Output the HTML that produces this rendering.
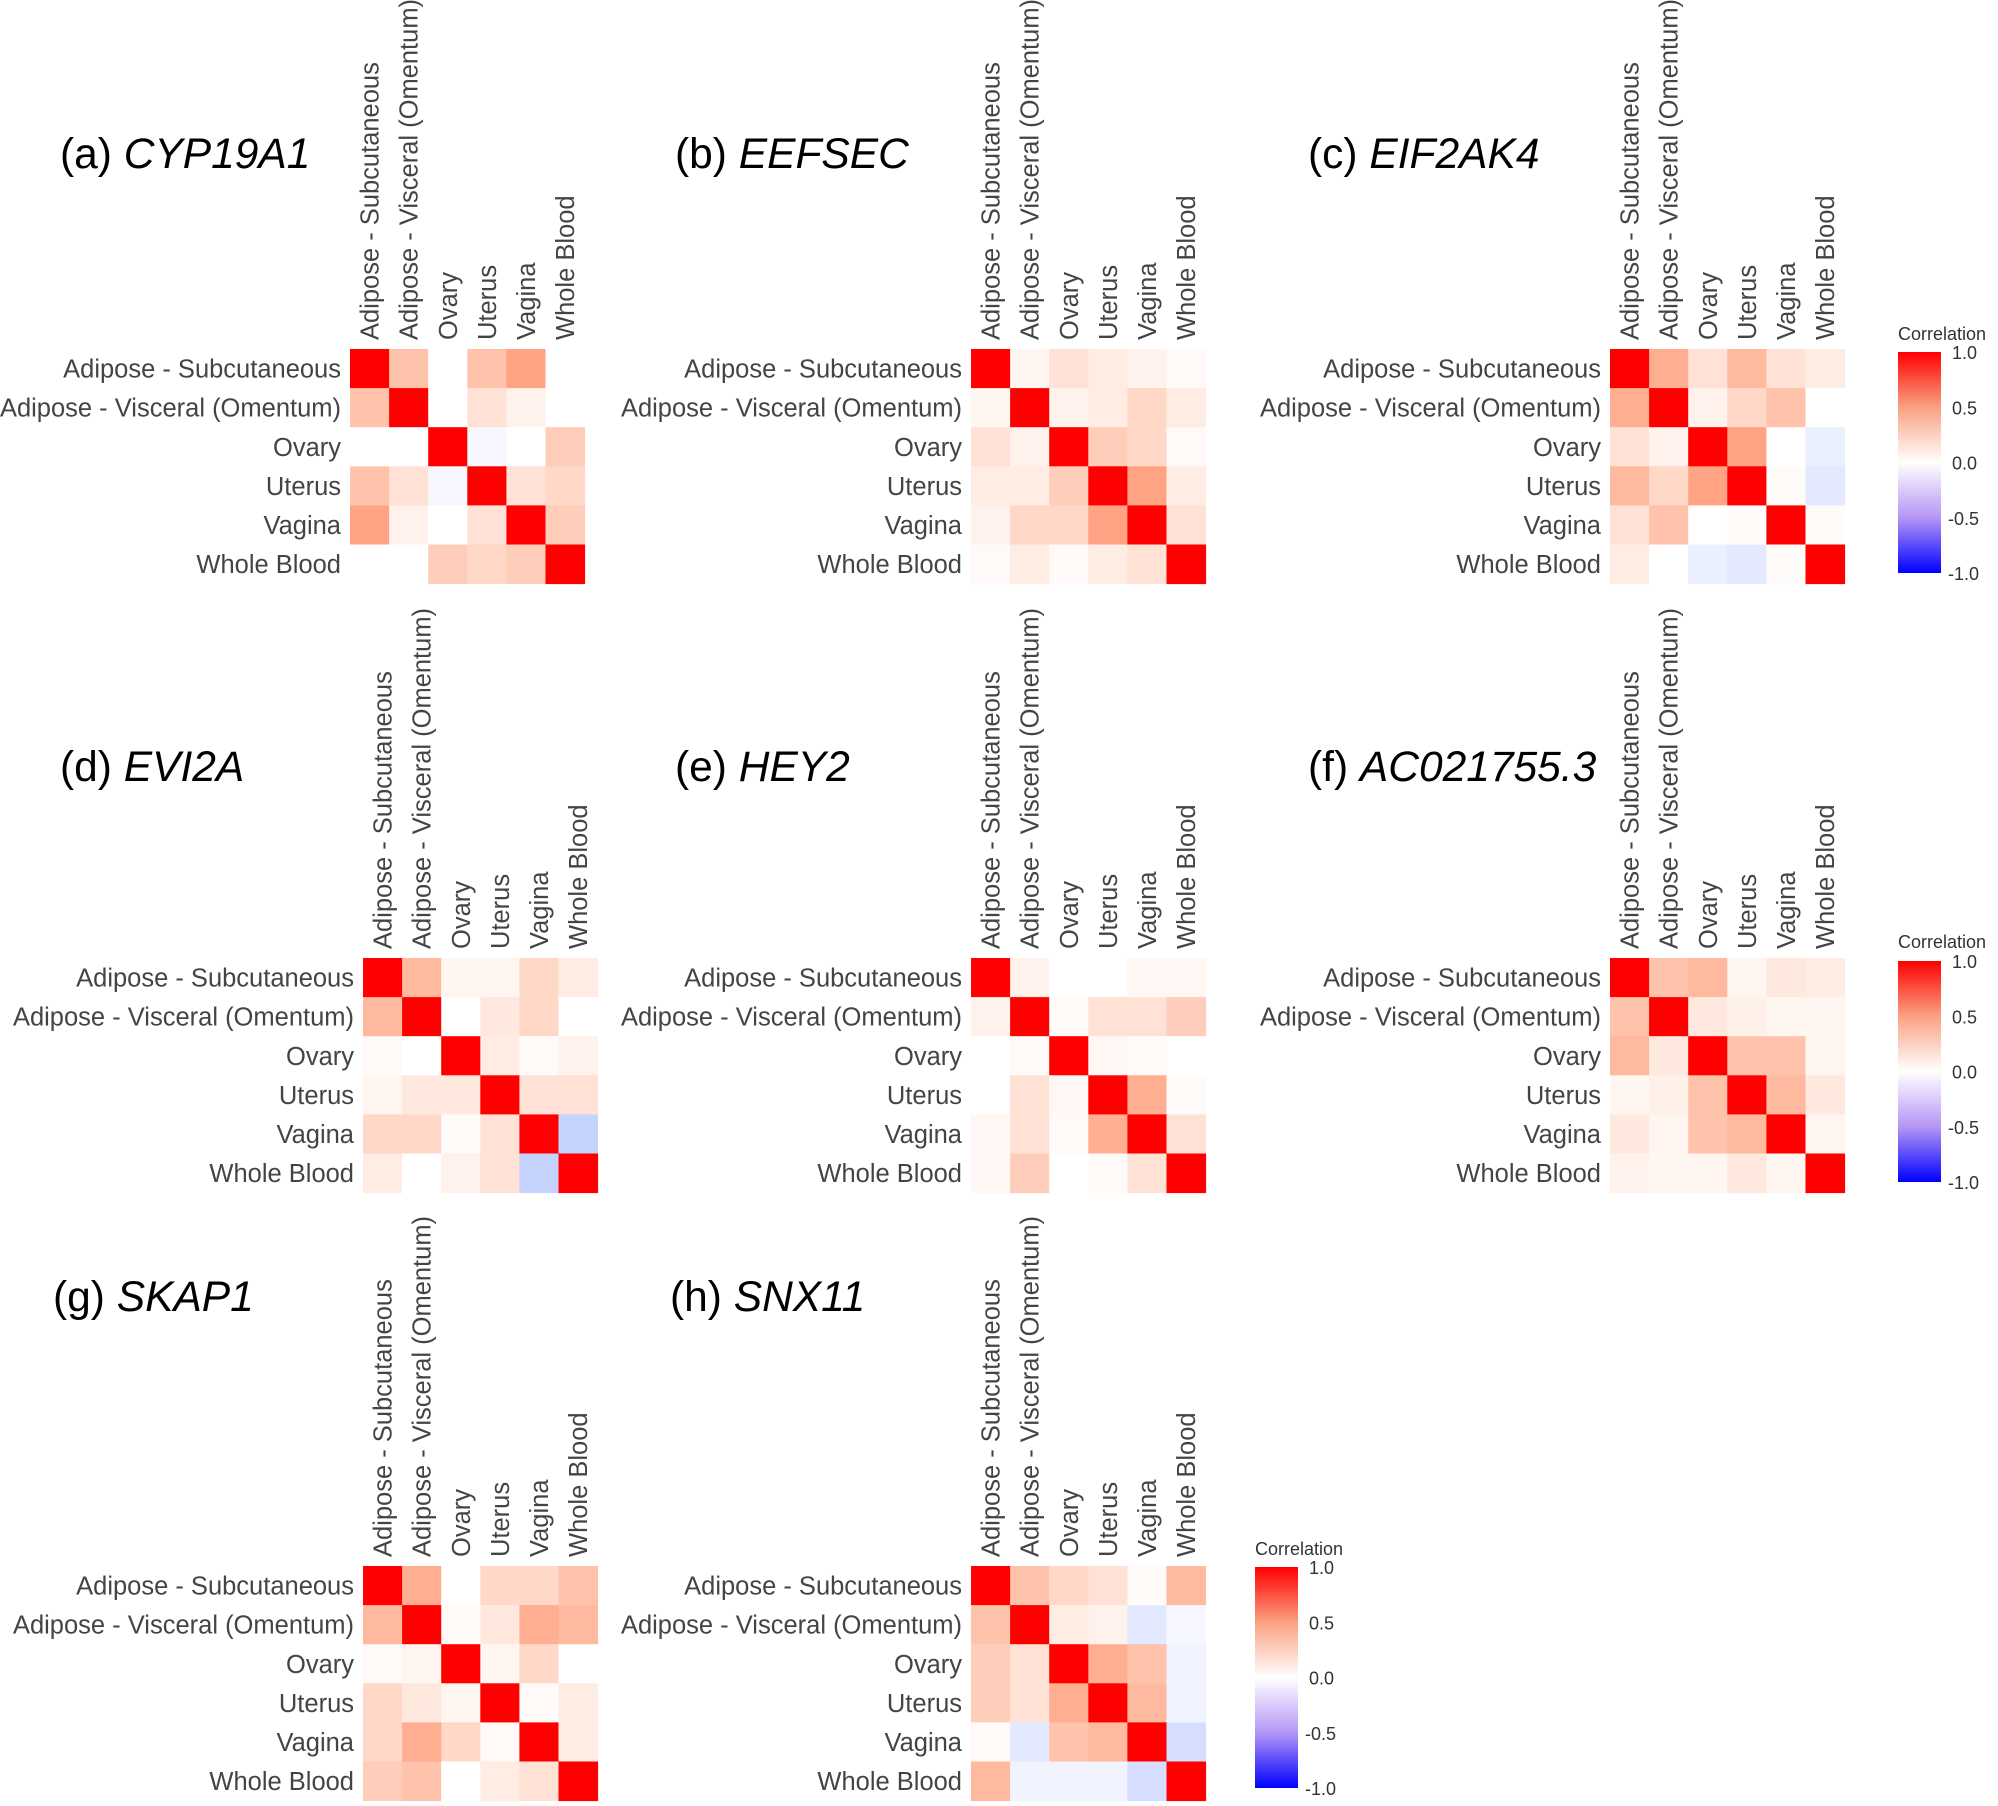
<!DOCTYPE html>
<html><head><meta charset="utf-8"><style>
html,body{margin:0;padding:0;background:#fff}
svg{display:block}
text{font-family:"Liberation Sans",sans-serif}
</style></head><body>
<svg id="s" width="1998" height="1806" xmlns="http://www.w3.org/2000/svg">
<defs><linearGradient id="cg" x1="0" y1="0" x2="0" y2="1">
<stop offset="0" stop-color="#ff0000"/><stop offset="0.25" stop-color="#f9a182"/><stop offset="0.5" stop-color="#ffffff"/><stop offset="0.75" stop-color="#b496f5"/><stop offset="1" stop-color="#0000ff"/>
</linearGradient></defs>
</svg>
<script>
const S=document.getElementById('s');
const NS="http://www.w3.org/2000/svg";
function el(t,a,txt){const e=document.createElementNS(NS,t);for(const k in a)e.setAttribute(k,a[k]);if(txt!==undefined)e.textContent=txt;S.appendChild(e);return e;}
function col(v){if(v>=0){const g=Math.round(255*Math.pow(1-v,0.75)),b=Math.round(255*Math.pow(1-v,1.1));return `rgb(255,${g},${b})`;}const a=-v;const r=Math.round(255*Math.pow(1-a,1.1)),g=Math.round(255*Math.pow(1-a,0.85));return `rgb(${r},${g},255)`;}
const labs=["Adipose - Subcutaneous","Adipose - Visceral (Omentum)","Ovary","Uterus","Vagina","Whole Blood"];
const P=[
{t:"(a) ",g:"CYP19A1",tx:60,ty:168,x:350,y:349,m:[[1,.3,0,.3,.45,0],[.3,1,0,.15,.07,0],[0,0,1,-.03,0,.25],[.3,.15,-.03,1,.15,.2],[.45,.07,0,.15,1,.25],[0,0,.25,.2,.25,1]]},
{t:"(b) ",g:"EEFSEC",tx:675,ty:168,x:971,y:349,m:[[1,.05,.15,.1,.07,.03],[.05,1,.07,.1,.2,.1],[.15,.07,1,.25,.2,.03],[.1,.1,.25,1,.45,.1],[.07,.2,.2,.45,1,.15],[.03,.1,.03,.1,.15,1]]},
{t:"(c) ",g:"EIF2AK4",tx:1308,ty:168,x:1610,y:349,m:[[1,.4,.15,.35,.15,.1],[.4,1,.07,.2,.3,0],[.15,.07,1,.45,0,-.07],[.35,.2,.45,1,.02,-.1],[.15,.3,0,.02,1,.02],[.1,0,-.07,-.1,.02,1]]},
{t:"(d) ",g:"EVI2A",tx:60,ty:781,x:363,y:958,m:[[1,.35,.05,.05,.2,.1],[.35,1,0,.12,.2,0],[.03,0,1,.1,.02,.07],[.05,.12,.12,1,.15,.15],[.2,.2,.02,.15,1,-.2],[.1,0,.07,.15,-.2,1]]},
{t:"(e) ",g:"HEY2",tx:675,ty:781,x:971,y:958,m:[[1,.07,0,0,.04,.04],[.07,1,.02,.15,.15,.25],[0,.02,1,.04,.02,0],[0,.15,.04,1,.4,.02],[.04,.15,.03,.4,1,.15],[.04,.25,0,.02,.15,1]]},
{t:"(f) ",g:"AC021755.3",tx:1308,ty:781,x:1610,y:958,m:[[1,.3,.35,.05,.12,.1],[.3,1,.12,.08,.05,.05],[.35,.12,1,.3,.3,.05],[.05,.08,.3,1,.35,.12],[.12,.05,.3,.35,1,.05],[.07,.05,.05,.12,.05,1]]},
{t:"(g) ",g:"SKAP1",tx:53,ty:1311,x:363,y:1566,m:[[1,.4,0,.2,.2,.3],[.35,1,.03,.12,.4,.35],[.03,.05,1,.05,.2,0],[.2,.12,.05,1,.03,.1],[.2,.4,.2,.03,1,.1],[.25,.3,0,.1,.15,1]]},
{t:"(h) ",g:"SNX11",tx:670,ty:1311,x:971,y:1566,m:[[1,.3,.2,.15,.02,.35],[.3,1,.1,.07,-.1,-.03],[.25,.15,1,.4,.3,-.05],[.25,.15,.4,1,.35,-.05],[.03,-.1,.3,.35,1,-.15],[.35,-.05,-.05,-.05,-.15,1]]}
];
const c=39.1;
for(const p of P){
  const t=el('text',{x:p.tx,y:p.ty,'font-size':42.5,fill:'#000'});
  t.appendChild(document.createTextNode(p.t));
  const ts=document.createElementNS(NS,'tspan');ts.setAttribute('font-style','italic');ts.textContent=p.g;t.appendChild(ts);
  for(let i=0;i<6;i++)for(let j=0;j<6;j++)
    el('rect',{x:p.x+j*c,y:p.y+i*c,width:c+0.5,height:c+0.5,fill:col(p.m[i][j])});
  for(let i=0;i<6;i++){
    el('text',{x:p.x-9,y:p.y+i*c+c/2+9,'font-size':25.5,fill:'#444','text-anchor':'end'},labs[i]);
    const cx=p.x+i*c+c/2+9, cy=p.y-9;
    el('text',{x:cx,y:cy,'font-size':25.5,fill:'#444',transform:`rotate(-90 ${cx} ${cy})`},labs[i]);
  }
}
const L=[{x:1898,y:352,tx:1898,ty:340},{x:1898,y:961,tx:1898,ty:948},{x:1255,y:1567,tx:1255,ty:1555}];
for(const l of L){
  el('text',{x:l.tx,y:l.ty,'font-size':18,fill:'#333'},"Correlation");
  el('rect',{x:l.x,y:l.y,width:43,height:221,fill:'url(#cg)'});
  const v=["1.0","0.5","0.0","-0.5","-1.0"];
  for(let k=0;k<5;k++)el('text',{x:l.x+(k>2?50:54),y:l.y+k*55.25+7,'font-size':18,fill:'#333'},v[k]);
}
</script>
</body></html>
